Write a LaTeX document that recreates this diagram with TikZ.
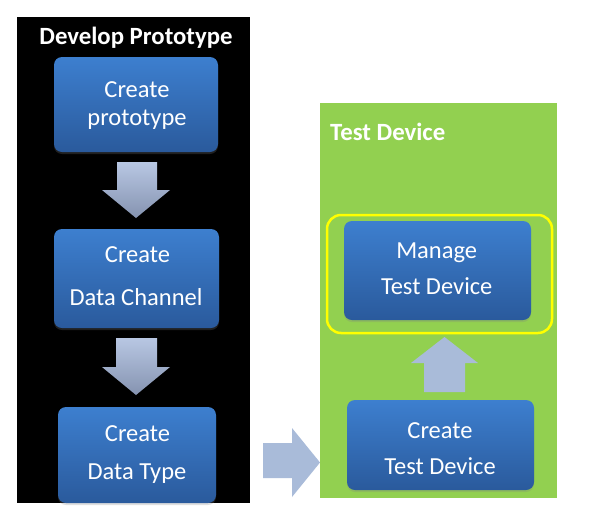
\documentclass[tikz,border=0pt]{standalone}
\usepackage{fontspec}
\setmainfont{Carlito}
\usetikzlibrary{shadows}
\definecolor{boxtop}{HTML}{3D7FCF}
\definecolor{boxbot}{HTML}{2A5A9C}
\definecolor{arrtop}{HTML}{B8C7E3}
\definecolor{arrbot}{HTML}{8593B0}
\definecolor{arrflat}{HTML}{A9BBD9}
\definecolor{grn}{HTML}{92D050}
\definecolor{ylw}{HTML}{FFFF00}
\begin{document}
\begin{tikzpicture}[x=1pt,y=-1pt,
  box/.style={rounded corners=8pt, top color=boxtop, bottom color=boxbot, draw=none, inner sep=0pt,
    drop shadow={opacity=0.25,shadow xshift=0pt,shadow yshift=-2pt}},
  lbl/.style={text=white, font=\fontsize{24.5}{29}\selectfont, inner sep=0pt, anchor=base},
  ttl/.style={text=white, font=\bfseries\fontsize{24.8}{29}\selectfont, inner sep=0pt},
  panel/.style={inner sep=0pt, draw=none},
  darr/.style={top color=arrtop, bottom color=arrbot, draw=none},
  farr/.style={fill=arrflat, draw=none}]
\useasboundingbox (0,0) rectangle (589,517);
\fill[white] (0,0) rectangle (589,517);
% panels
\node[panel, fill=black, minimum width=233pt, minimum height=486pt] (dev) at (133.5,260) {};
\node[panel, fill=grn, minimum width=237pt, minimum height=395pt] (test) at (438.5,300.5) {};
\node[ttl, anchor=base] (devt) at (136,44) {Develop Prototype};
\node[ttl, anchor=base west] (testt) at (330,140) {Test Device};
% yellow highlight
\node[panel, draw=ylw, line width=2.5pt, rounded corners=14pt, minimum width=225pt, minimum height=118pt] (hl) at (439.5,274) {};
% boxes
\node[box, minimum width=164pt, minimum height=95pt] (b1) at (136,104.5) {};
\node[box, minimum width=165pt, minimum height=99pt] (b2) at (136.5,278.5) {};
\node[box, minimum width=158pt, minimum height=96pt] (b3) at (137,455) {};
\node[box, minimum width=187pt, minimum height=99pt] (m) at (437.5,270.5) {};
\node[box, minimum width=187pt, minimum height=90pt] (c) at (440.5,445) {};
% labels
\node[lbl] (b1a) at (137,97.7) {Create};
\node[lbl] (b1b) at (137,125) {prototype};
\node[lbl] (b2a) at (137.5,262.7) {Create};
\node[lbl] (b2b) at (136,305) {Data Channel};
\node[lbl] (b3a) at (137.5,441.7) {Create};
\node[lbl] (b3b) at (137,479) {Data Type};
\node[lbl] (ma) at (436.7,258.3) {Manage};
\node[lbl] (mb) at (436.7,294) {Test Device};
\node[lbl] (ca) at (440,438.3) {Create};
\node[lbl] (cb) at (440,474) {Test Device};
% block arrows
\path[darr] (117,162) -- (157,162) -- (157,190) -- (170,190) -- (136,218) -- (102,190) -- (117,190) -- cycle;
\path[darr] (116,338) -- (157,338) -- (157,367) -- (170,367) -- (136,395) -- (102,367) -- (116,367) -- cycle;
\path[farr] (424,392) -- (465,392) -- (465,363) -- (478,363) -- (444.5,337) -- (411,363) -- (424,363) -- cycle;
\path[farr] (263,443) -- (292,443) -- (292,428) -- (320,462.5) -- (292,497) -- (292,478) -- (263,478) -- cycle;
\end{tikzpicture}
\end{document}
